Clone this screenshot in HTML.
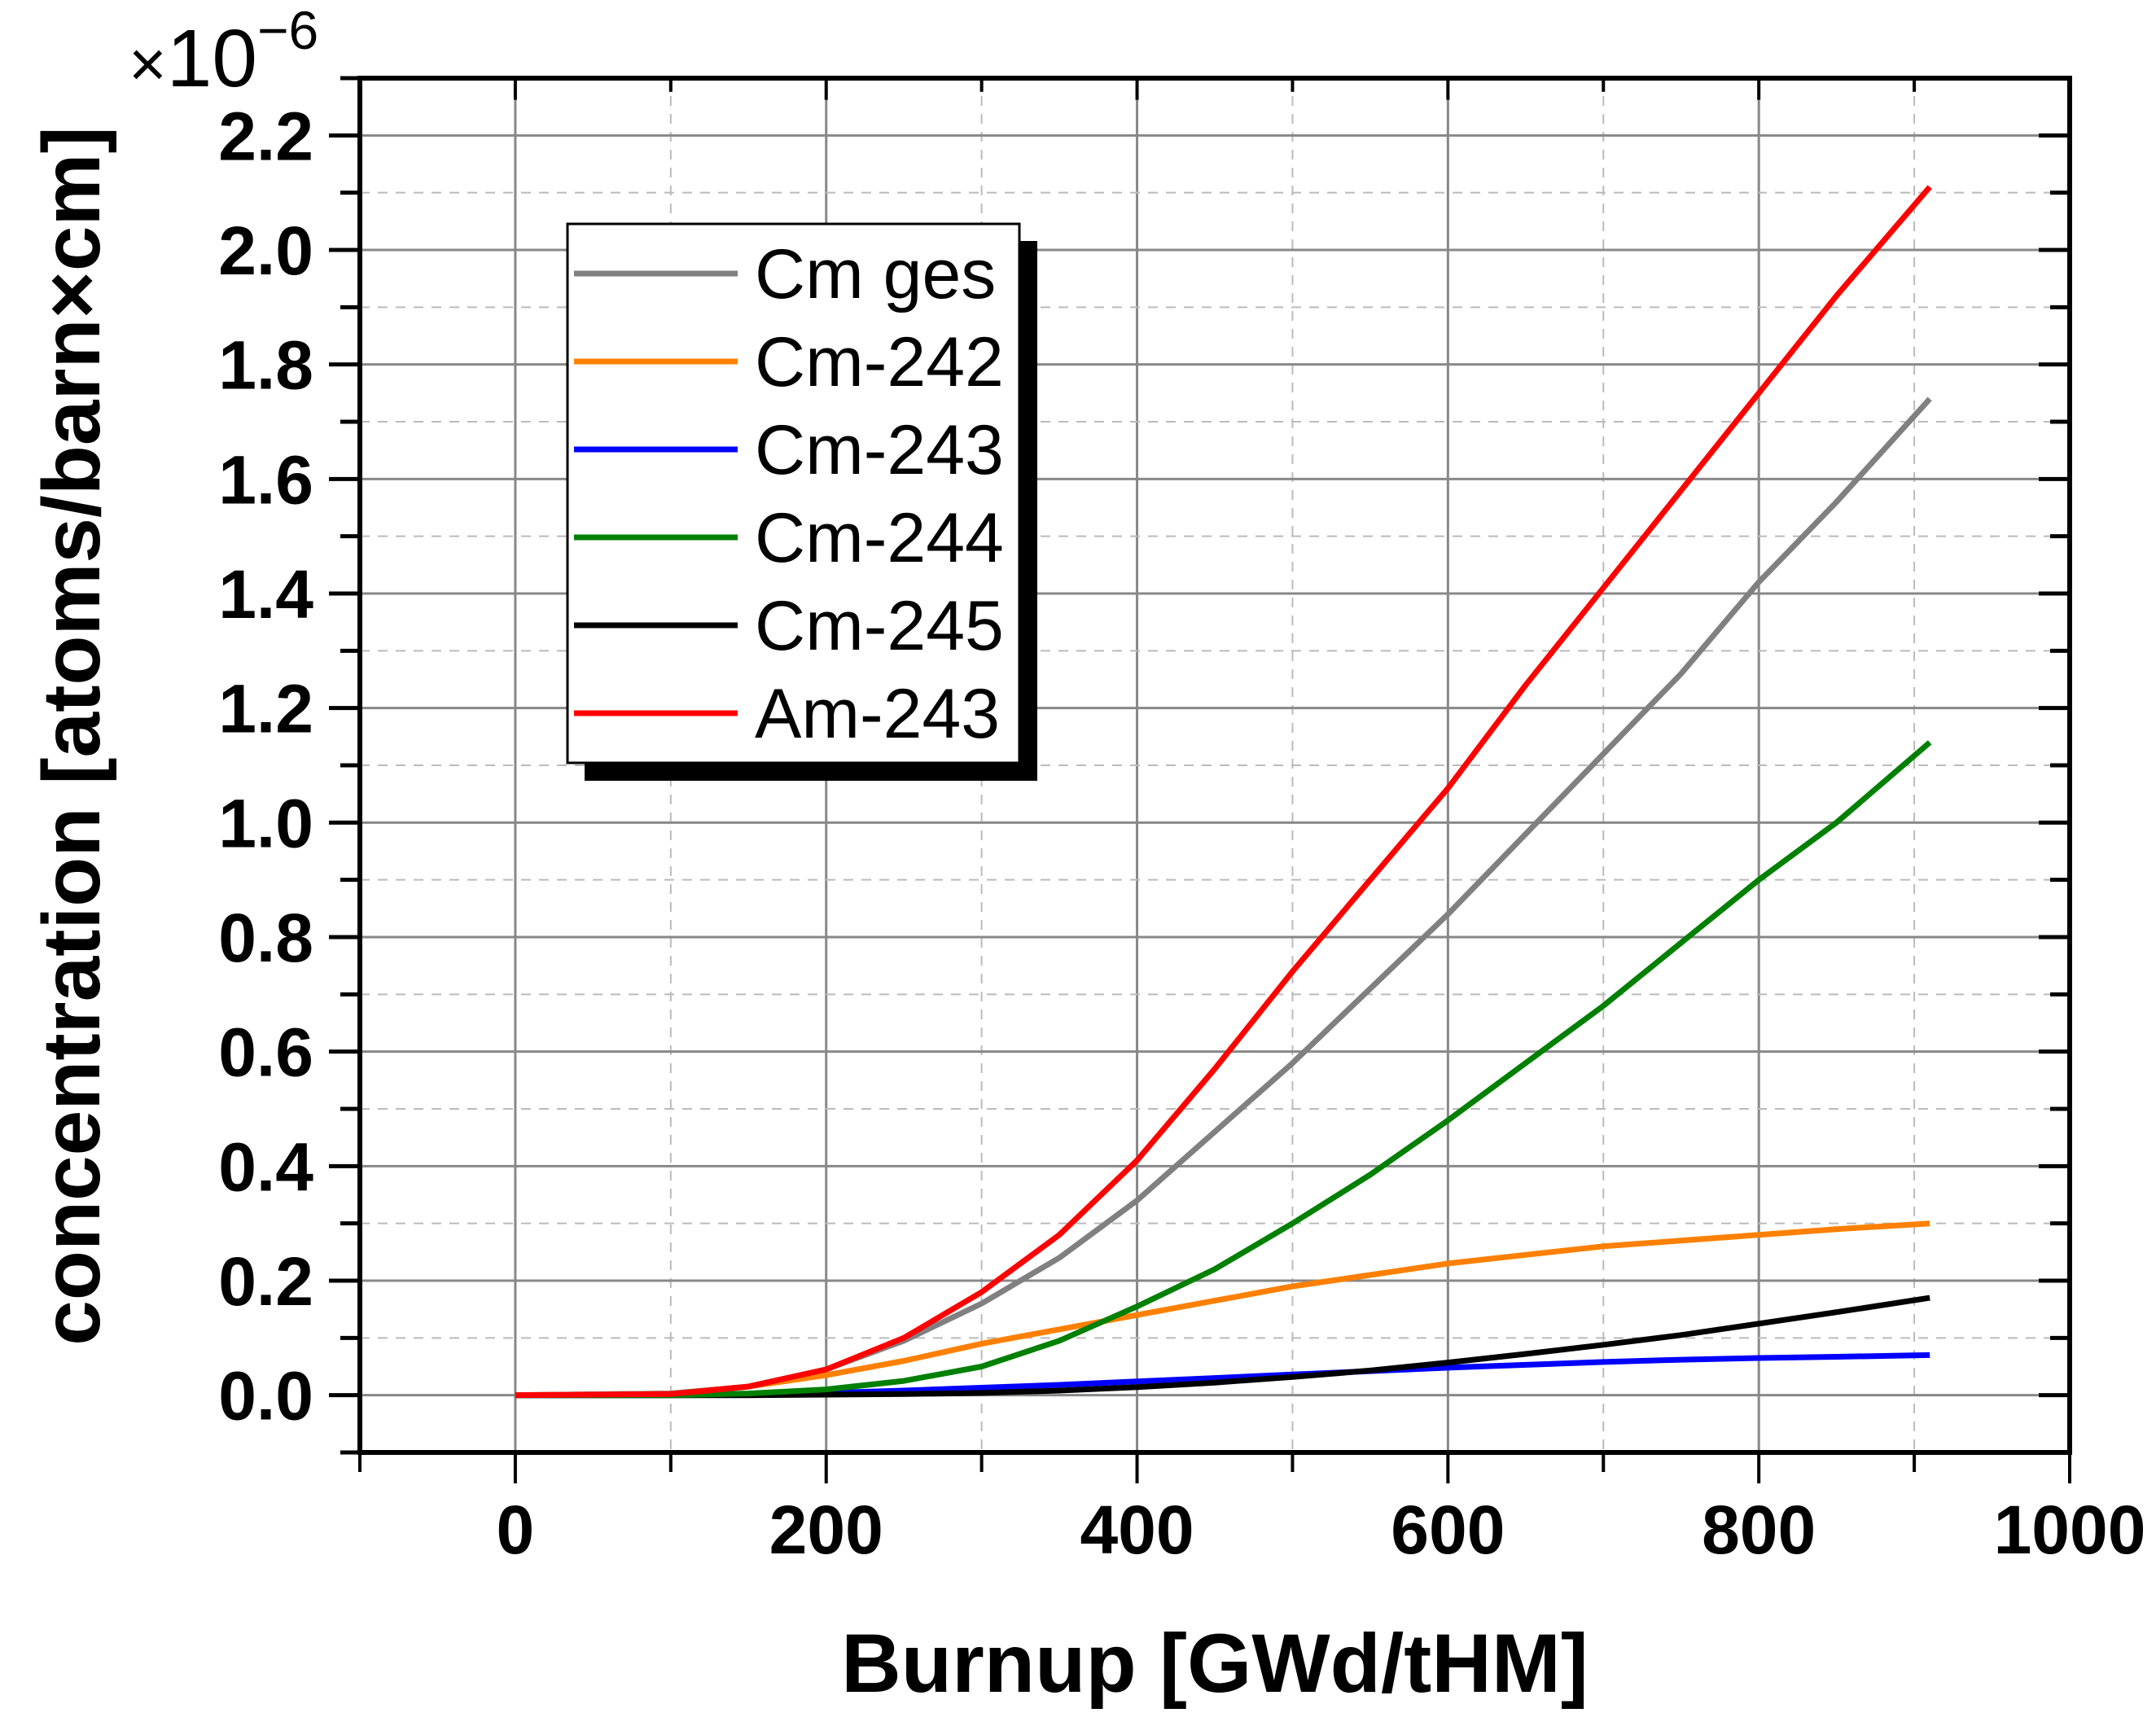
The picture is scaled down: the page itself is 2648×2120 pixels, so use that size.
<!DOCTYPE html>
<html><head><meta charset="utf-8"><style>
html,body{margin:0;padding:0;background:#fff;}
svg{display:block;font-family:"Liberation Sans",Arial,sans-serif;}
</style></head><body>
<svg id="chart" width="2648" height="2120" viewBox="0 0 2648 2120" xmlns="http://www.w3.org/2000/svg">
<g id="grid"></g>
<g id="series"></g>
<g id="axes"></g>
<g id="legend"></g>
<text x="158" y="106" font-size="100"><tspan font-size="80">×</tspan>10<tspan font-size="66" dy="-46">−6</tspan></text>
<text x="1492" y="2078" font-size="102" font-weight="bold" text-anchor="middle">Burnup [GWd/tHM]</text>
<text transform="translate(122,904) rotate(-90)" font-size="100" font-weight="bold" text-anchor="middle">concentration [atoms/barn×cm]</text>
</svg>
<script>
const xs = [0,100,150,200,250,300,350,400,450,500,550,600,650,700,750,800,850,910];
const cmGes = [0,0.003,0.015,0.045,0.095,0.16,0.24,0.34,0.46,0.58,0.71,0.84,0.98,1.12,1.26,1.42,1.56,1.74];
const cm242 = [0,0.003,0.015,0.035,0.06,0.09,0.115,0.14,0.165,0.19,0.21,0.23,0.245,0.26,0.27,0.28,0.29,0.30];
const cm243 = [0,0,0.001,0.004,0.008,0.013,0.018,0.024,0.03,0.036,0.042,0.048,0.053,0.058,0.062,0.065,0.067,0.07];
const cm244 = [0,0,0.003,0.01,0.025,0.05,0.095,0.155,0.22,0.30,0.385,0.48,0.58,0.68,0.79,0.90,1.00,1.14];
const cm245 = [0,0,0,0.001,0.002,0.004,0.008,0.014,0.022,0.032,0.043,0.057,0.072,0.088,0.105,0.125,0.145,0.17];
const am243 = [0,0.002,0.015,0.045,0.10,0.18,0.28,0.41,0.57,0.74,0.90,1.06,1.24,1.41,1.58,1.75,1.92,2.11];
const seriesNames = ["Cm ges","Cm-242","Cm-243","Cm-244","Cm-245","Am-243"];
const xTickLabels = ["0","200","400","600","800","1000"];
const yTickLabels = ["0.0","0.2","0.4","0.6","0.8","1.0","1.2","1.4","1.6","1.8","2.0","2.2"];

const NS="http://www.w3.org/2000/svg";
const L=442,R=2542,T=96,B=1784;
const xMin=-100,xMax=1000,yMin=-0.1,yMax=2.3;
function X(v){return L+(v-xMin)/(xMax-xMin)*(R-L);}
function Y(v){return B-(v-yMin)/(yMax-yMin)*(B-T);}
function mk(tag,attrs,parent){const e=document.createElementNS(NS,tag);for(const k in attrs)e.setAttribute(k,attrs[k]);parent.appendChild(e);return e;}
const grid=document.getElementById('grid'),axes=document.getElementById('axes'),ser=document.getElementById('series'),leg=document.getElementById('legend');

for(let v=-100;v<=1000;v+=100){
  if(v===-100||v===1000) continue;
  const major=(v%200===0);
  const g=mk('line',{x1:X(v),x2:X(v),y1:T,y2:B,stroke:major?'#888':'#bbb','stroke-width':major?3:2,'stroke-dasharray':major?'none':'12,10'},grid);
  
  
}
for(let i=-1;i<=23;i++){
  const v=i/10; if(i===-1||i===23) continue;
  const major=(i%2===0);
  const g=mk('line',{x1:L,x2:R,y1:Y(v),y2:Y(v),stroke:major?'#888':'#bbb','stroke-width':major?3:2,'stroke-dasharray':major?'none':'12,10'},grid);
  
  
}

const allSeries=[cmGes,cm242,cm243,cm244,cm245,am243];
const colors=['#808080','#ff8000','#0000ff','#008000','#000000','#ff0000'];
const drawOrder=[2,4,1,3,0,5];
drawOrder.forEach(si=>{
  const d=allSeries[si].map((v,i)=>(i?'L':'M')+X(xs[i]).toFixed(1)+','+Y(v).toFixed(1)).join(' ');
  const p=mk('path',{d:d,fill:'none',stroke:colors[si],'stroke-width':7,'stroke-linejoin':'round'},ser);
  
  
});

const fr=mk('rect',{x:L,y:T,width:R-L,height:B-T,fill:'none',stroke:'#000','stroke-width':6},axes);


for(let v=-100;v<=1000;v+=100){
  const major=(v%200===0), len=major?38:24;
  mk('line',{x1:X(v),x2:X(v),y1:B,y2:B+len,stroke:'#000','stroke-width':4},axes);
  mk('line',{x1:X(v),x2:X(v),y1:T,y2:T+(major?38:24)*0.7,stroke:'#000','stroke-width':4},axes);
}
for(let i=-1;i<=23;i++){
  const v=i/10, major=(i%2===0), len=major?38:24;
  mk('line',{x1:L-len,x2:L,y1:Y(v),y2:Y(v),stroke:'#000','stroke-width':5},axes);
  mk('line',{x1:R-len,x2:R,y1:Y(v),y2:Y(v),stroke:'#000','stroke-width':5},axes);
}
xTickLabels.forEach((s,i)=>{
  const t=mk('text',{x:X(i*200),y:1908,'font-size':84,'font-weight':'bold','text-anchor':'middle'},axes);
  t.textContent=s;
  
  
});
yTickLabels.forEach((s,i)=>{
  const t=mk('text',{x:385,y:Y(i*0.2)+30,'font-size':84,'font-weight':'bold','text-anchor':'end'},axes);
  t.textContent=s;
  
  
});

const sh=mk('rect',{x:718,y:296,width:556,height:663,fill:'#000'},leg);


const lb=mk('rect',{x:697,y:275,width:555,height:662,fill:'#fff',stroke:'#000','stroke-width':3},leg);


seriesNames.forEach((n,i)=>{
  const yy=336+i*108;
  const ln=mk('line',{x1:705,x2:906,y1:yy,y2:yy,stroke:colors[i],'stroke-width':7},leg);
  
  
  const t=mk('text',{x:927,y:yy+30,'font-size':86},leg);
  t.textContent=n;
  
  
});
</script>
</body></html>
